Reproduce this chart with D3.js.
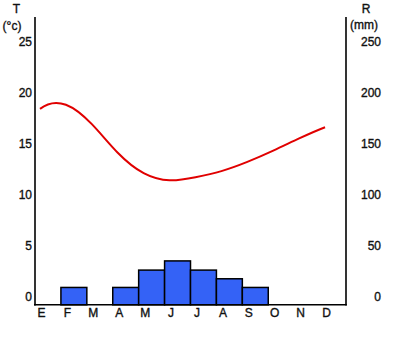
<!DOCTYPE html>
<html><head><meta charset="utf-8">
<script src="https://cdn.jsdelivr.net/npm/d3@7"></script>
<style>
html,body{margin:0;padding:0;background:#fff;}
svg text{font-family:"Liberation Sans",Arial,sans-serif;font-size:12px;fill:#111;stroke:#111;stroke-width:0.35px;}
</style></head>
<body><svg id="c" width="400" height="361"></svg>
<script>
const months = ["E","F","M","A","M","J","J","A","S","O","N","D"];
const temperature = [18.4, 18.8, 16.9, 14.1, 12.1, 11.4, 11.7, 12.3, 13.2, 14.3, 15.5, 16.6];
const rainfall = [0, 9, 0, 9, 26, 35, 26, 17.5, 9, 0, 0, 0];
const tTicks = [0, 5, 10, 15, 20, 25];
const rTicks = [0, 50, 100, 150, 200, 250];

// custom d3 curve: cubic spline with "not-a-knot" end conditions
function curveNotAKnot(context) {
  let xs, ys;
  return {
    areaStart() {}, areaEnd() {},
    lineStart() { xs = []; ys = []; },
    point(x, y) { xs.push(+x); ys.push(+y); },
    lineEnd() {
      const n = xs.length;
      if (n === 0) return;
      context.moveTo(xs[0], ys[0]);
      if (n < 4) { for (let i = 1; i < n; i++) context.lineTo(xs[i], ys[i]); return; }
      const h = []; for (let i = 0; i < n - 1; i++) h.push(xs[i + 1] - xs[i]);
      const A = Array.from({length: n}, () => new Array(n).fill(0));
      const b = new Array(n).fill(0);
      A[0][0] = h[1]; A[0][1] = -(h[0] + h[1]); A[0][2] = h[0];
      for (let i = 1; i < n - 1; i++) {
        A[i][i - 1] = h[i - 1]; A[i][i] = 2 * (h[i - 1] + h[i]); A[i][i + 1] = h[i];
        b[i] = 6 * ((ys[i + 1] - ys[i]) / h[i] - (ys[i] - ys[i - 1]) / h[i - 1]);
      }
      A[n - 1][n - 3] = h[n - 2]; A[n - 1][n - 2] = -(h[n - 3] + h[n - 2]); A[n - 1][n - 1] = h[n - 3];
      // gaussian elimination with partial pivoting
      for (let c = 0; c < n; c++) {
        let p = c;
        for (let r = c + 1; r < n; r++) if (Math.abs(A[r][c]) > Math.abs(A[p][c])) p = r;
        [A[c], A[p]] = [A[p], A[c]]; [b[c], b[p]] = [b[p], b[c]];
        for (let r = c + 1; r < n; r++) {
          const f = A[r][c] / A[c][c];
          if (!f) continue;
          for (let k = c; k < n; k++) A[r][k] -= f * A[c][k];
          b[r] -= f * b[c];
        }
      }
      const M = new Array(n).fill(0);
      for (let r = n - 1; r >= 0; r--) {
        let s = b[r];
        for (let k = r + 1; k < n; k++) s -= A[r][k] * M[k];
        M[r] = s / A[r][r];
      }
      for (let i = 0; i < n - 1; i++) {
        const hi = h[i], sl = (ys[i + 1] - ys[i]) / hi;
        const d0 = sl - hi * (2 * M[i] + M[i + 1]) / 6;
        const d1 = sl + hi * (M[i] + 2 * M[i + 1]) / 6;
        context.bezierCurveTo(xs[i] + hi / 3, ys[i] + d0 * hi / 3,
                              xs[i + 1] - hi / 3, ys[i + 1] - d1 * hi / 3,
                              xs[i + 1], ys[i + 1]);
      }
    }
  };
}

const svg = d3.select("#c");
const L = 35, R = 346, T = 17, B = 304.8;
const keys = months.map((m, i) => i);
const x = d3.scaleBand().domain(keys).range([L, R]).padding(0);
const yT = d3.scaleLinear().domain([-0.8, 27.4]).range([B, T]);
const yR = d3.scaleLinear().domain([-8, 274]).range([B, T]);

// bars
svg.append("g").selectAll("rect")
  .data(rainfall.map((v, i) => ({v, i})).filter(d => d.v > 0))
  .join("rect")
  .attr("x", d => x(d.i))
  .attr("width", x.bandwidth())
  .attr("y", d => yR(d.v))
  .attr("height", d => yR(-8) - yR(d.v))
  .attr("fill", "#3462f6")
  .attr("stroke", "#000")
  .attr("stroke-width", 1.5);

// temperature line
const line = d3.line()
  .x((d, i) => x(i) + 5)
  .y(d => yT(d))
  .curve(curveNotAKnot);
svg.append("path").datum(temperature)
  .attr("d", line)
  .attr("fill", "none")
  .attr("stroke", "#e00000")
  .attr("stroke-width", 2);

// axes lines
const ax = svg.append("g").attr("stroke", "#000").attr("stroke-width", 1.6);
ax.append("line").attr("x1", L).attr("x2", L).attr("y1", T).attr("y2", B + 0.8);
ax.append("line").attr("x1", R).attr("x2", R).attr("y1", T).attr("y2", B + 0.8);
ax.append("line").attr("x1", L - 1).attr("x2", R + 0.8).attr("y1", B).attr("y2", B);

// left axis labels
const gl = svg.append("g").attr("transform", `translate(${L - 3},0)`)
  .call(d3.axisLeft(yT).tickValues(tTicks).tickSize(0).tickPadding(0));
gl.select(".domain").remove();
gl.selectAll("text").style("font-size", "12px").attr("fill", "#111");

// right axis labels
const gr = svg.append("g").attr("transform", `translate(381,0)`)
  .call(d3.axisLeft(yR).tickValues(rTicks).tickSize(0).tickPadding(0));
gr.select(".domain").remove();
gr.selectAll("text").style("font-size", "12px").attr("fill", "#111");

// month labels
const gx = svg.append("g").attr("transform", `translate(0,${B + 4})`)
  .call(d3.axisBottom(d3.scalePoint().domain(keys).range([x(0) + 6, x(11) + 6]))
    .tickSize(0).tickPadding(0).tickFormat(i => months[i]));
gx.select(".domain").remove();
gx.selectAll("text").style("font-size", "12px").attr("fill", "#111");

// axis titles
svg.append("text").attr("x", 16.5).attr("y", 12.5).attr("text-anchor", "middle").text("T");
svg.append("text").attr("x", 12).attr("y", 30).attr("text-anchor", "middle").text("(°c)");
svg.append("text").attr("x", 366).attr("y", 13).attr("text-anchor", "middle").text("R");
svg.append("text").attr("x", 364).attr("y", 29).attr("text-anchor", "middle").text("(mm)");
</script></body></html>
